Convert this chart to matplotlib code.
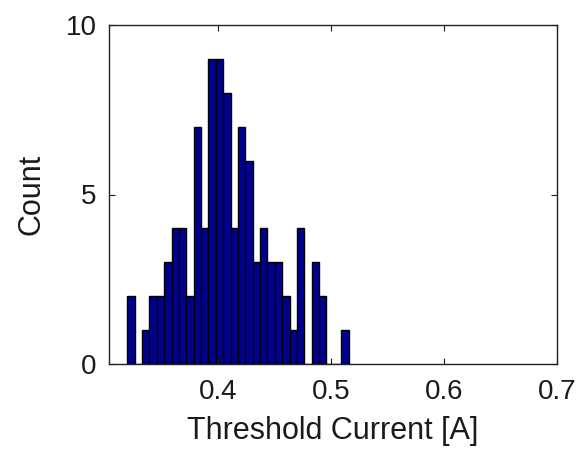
import numpy as np
import matplotlib
matplotlib.use("Agg")
import matplotlib.pyplot as plt

# Histogram data
counts = [2, 0, 1, 2, 2, 3, 4, 4, 2, 7, 4, 9, 9, 8, 4, 7, 6, 3, 4, 3,
          3, 2, 1, 4, 0, 3, 2, 0, 0, 1]
data_min = 0.3196
data_max = 0.5155
x_ticks = [0.4, 0.5, 0.6, 0.7]
x_tick_labels = ["0.4", "0.5", "0.6", "0.7"]
y_ticks = [0, 5, 10]
y_tick_labels = ["0", "5", "10"]

edges = np.linspace(data_min, data_max, len(counts) + 1)
centers = (edges[:-1] + edges[1:]) / 2
width = edges[1] - edges[0]

plt.rcParams['font.family'] = ['Liberation Sans', 'DejaVu Sans']
fig = plt.figure(figsize=(5.77, 4.49), dpi=100)
ax = fig.add_axes([109/577, 1 - 364/449, (557 - 109)/577, (364 - 25)/449])
ax.bar(centers, counts, width=width, align='center',
       facecolor=(0, 0, 0.5625), edgecolor='black', linewidth=1.0)
ax.set_xlim(0.3034, 0.7)
ax.set_ylim(0, 10)
ax.set_xticks(x_ticks)
ax.set_xticklabels(x_tick_labels)
ax.set_yticks(y_ticks)
ax.set_yticklabels(y_tick_labels)
ax.tick_params(direction='in', top=True, right=True, length=4, width=0.8,
               labelsize=20, colors='#1a1a1a')
ax.tick_params(axis='x', pad=11)
ax.tick_params(axis='y', pad=9)
for s in ax.spines.values():
    s.set_linewidth(1.0)
    s.set_color('#222222')
ax.set_xlabel("Threshold Current [A]", fontsize=22, labelpad=8, color='#1a1a1a')
ax.set_ylabel("Count", fontsize=22, labelpad=14, color='#1a1a1a')
fig.savefig("out.png", dpi=100)
